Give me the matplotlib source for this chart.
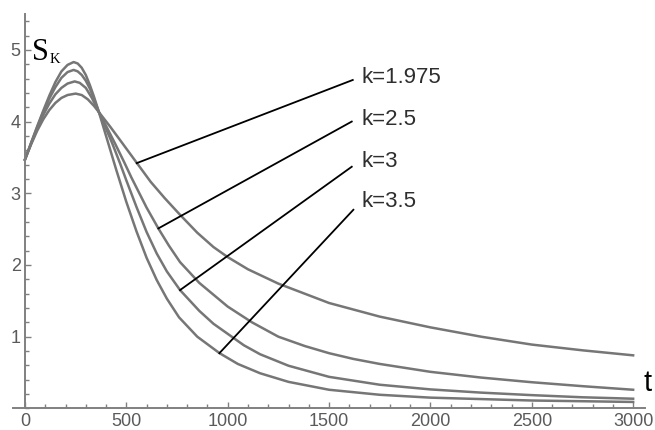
import matplotlib
matplotlib.use("Agg")
import matplotlib.pyplot as plt
from matplotlib.ticker import MultipleLocator, FixedLocator

# ---- data ----
t_k35 = [0, 30, 60, 90, 120, 150, 180, 210, 240, 260, 280, 300, 320, 340, 365, 400, 450, 500,
         550, 600, 650, 700, 760, 850, 960, 1050, 1160, 1300, 1500, 1750, 2000, 2500, 3000]
s_k35 = [3.47, 3.70, 3.93, 4.15, 4.36, 4.55, 4.70, 4.79, 4.83, 4.81, 4.75, 4.65, 4.51, 4.35, 4.13, 3.80, 3.33, 2.88,
         2.47, 2.10, 1.79, 1.53, 1.27, 1.00, 0.77, 0.62, 0.49, 0.37, 0.26, 0.19, 0.15, 0.11, 0.09]

t_k3 = [0, 30, 60, 90, 120, 150, 180, 210, 240, 260, 280, 300, 320, 340, 365, 400, 430, 470, 500,
        550, 600, 650, 700, 765, 860, 930, 1000, 1080, 1160, 1300, 1500, 1750, 2000, 2250, 2500, 2750, 3000]
s_k3 = [3.47, 3.70, 3.92, 4.13, 4.32, 4.48, 4.61, 4.69, 4.72, 4.70, 4.65, 4.57, 4.46, 4.32, 4.13, 3.90, 3.70, 3.41, 3.18,
        2.81, 2.46, 2.16, 1.91, 1.65, 1.36, 1.18, 1.04, 0.88, 0.755, 0.595, 0.44, 0.33, 0.265, 0.22, 0.185, 0.155, 0.135]

t_k25 = [0, 30, 60, 90, 120, 150, 180, 210, 245, 270, 300, 330, 365, 400, 445, 490, 525, 600, 660, 710,
         765, 860, 1000, 1120, 1250, 1380, 1500, 1620, 1750, 2000, 2250, 2500, 2750, 3000]
s_k25 = [3.47, 3.69, 3.90, 4.09, 4.25, 4.38, 4.47, 4.53, 4.56, 4.54, 4.47, 4.33, 4.13, 3.94, 3.69, 3.43, 3.22, 2.80, 2.50, 2.27,
         2.04, 1.75, 1.42, 1.20, 1.00, 0.87, 0.77, 0.69, 0.62, 0.51, 0.43, 0.365, 0.31, 0.26]

t_k1975 = [0, 30, 60, 90, 120, 150, 180, 210, 250, 280, 310, 340, 365, 420, 480, 550, 620, 690, 765, 850,
           930, 1000, 1100, 1250, 1500, 1750, 2000, 2250, 2500, 2750, 3000]
s_k1975 = [3.47, 3.68, 3.87, 4.03, 4.16, 4.26, 4.33, 4.37, 4.39, 4.37, 4.31, 4.22, 4.13, 3.93, 3.70, 3.43, 3.16, 2.93, 2.70, 2.45,
           2.25, 2.11, 1.94, 1.74, 1.47, 1.28, 1.13, 1.00, 0.89, 0.81, 0.74]

labels = ["k=1.975", "k=2.5", "k=3", "k=3.5"]
# pointer lines: start on curve, end near label
ptr_start_t = [551, 658, 765, 959]
ptr_start_s = [3.42, 2.51, 1.65, 0.77]
ptr_end_t = [1617, 1612, 1612, 1620]
ptr_end_s = [4.58, 4.00, 3.37, 2.77]
label_t = [1662, 1662, 1662, 1662]
label_s = [4.61, 4.03, 3.45, 2.88]

x_major = [0, 500, 1000, 1500, 2000, 2500, 3000]
y_major = [1, 2, 3, 4, 5]

# ---- figure ----
fig = plt.figure(figsize=(6.55, 4.30), dpi=100)
ax = fig.add_axes([12.8 / 655, (430 - 408.4) / 430, 632.5 / 655, 394.4 / 430])
ax.set_xlim(-60, 3060)
ax.set_ylim(0, 5.5)

curve_color = "#767676"
for t, s in [(t_k1975, s_k1975), (t_k25, s_k25), (t_k3, s_k3), (t_k35, s_k35)]:
    ax.plot(t, s, color=curve_color, lw=1.8, solid_joinstyle="round", zorder=2)

for i in range(4):
    ax.plot([ptr_start_t[i], ptr_end_t[i]], [ptr_start_s[i], ptr_end_s[i]],
            color="black", lw=1.3, zorder=3)
    ax.text(label_t[i], label_s[i], labels[i], fontsize=16, color="#2e2e2e",
            family="Liberation Sans", va="center", ha="left")

# spines
for side in ["top", "right"]:
    ax.spines[side].set_visible(False)
ax.spines["left"].set_position(("data", 0))
ax.spines["bottom"].set_position(("data", 0))
for side in ["left", "bottom"]:
    ax.spines[side].set_color("#808080")
    ax.spines[side].set_linewidth(1.4)

ax.xaxis.set_major_locator(FixedLocator(x_major))
ax.yaxis.set_major_locator(FixedLocator(y_major))
ax.xaxis.set_minor_locator(MultipleLocator(100))
ax.yaxis.set_minor_locator(MultipleLocator(0.2))
ax.tick_params(which="both", direction="in", color="#808080", width=1.0,
               labelcolor="#5a5a5a", labelsize=13)
ax.tick_params(which="major", length=4.5)
ax.tick_params(which="minor", length=2.8)
ax.tick_params(axis="x", pad=3)
ax.tick_params(axis="y", pad=3)
for lab in ax.get_xticklabels() + ax.get_yticklabels():
    lab.set_family("Liberation Sans")

# axis labels
ax.text(35, 4.86, "S", fontsize=22, family="Liberation Serif", color="black",
        ha="left", va="baseline")
ax.text(123, 4.82, "K", fontsize=10.5, family="Liberation Serif", color="black",
        ha="left", va="baseline")
fig.text(644 / 655, 1 - 383 / 430, "t", fontsize=21, family="Liberation Sans",
         color="black", ha="left", va="center")

fig.savefig("out.png", dpi=100)
